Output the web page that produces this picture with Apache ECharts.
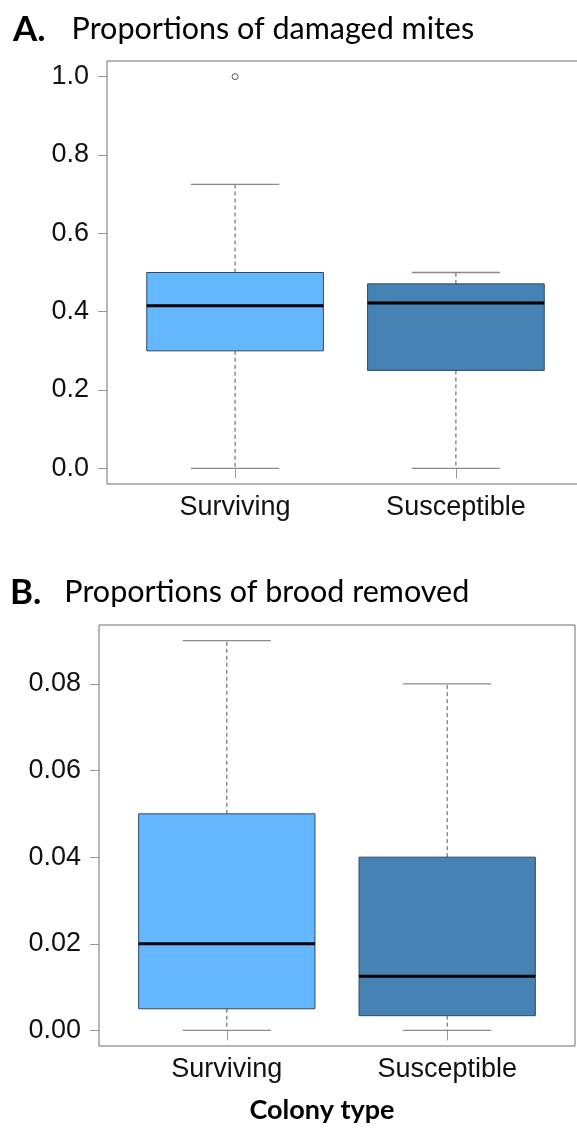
<!DOCTYPE html>
<html>
<head>
<meta charset="utf-8">
<script src="https://cdn.jsdelivr.net/npm/echarts@6/dist/echarts.min.js"></script>
<style>
html,body{margin:0;padding:0;background:#fff;}
#c{width:577px;height:1128px;}
</style>
</head>
<body>
<div id="c"></div>
<script>
// ---- data ----
const categories = ['Surviving', 'Susceptible'];
const boxColors = ['#63B8FF', '#4682B4'];
// [min, Q1, median, Q3, max]
const miteSurviving = [0, 0.30, 0.415, 0.50, 0.725];
const miteSusceptible = [0, 0.25, 0.422, 0.471, 0.50];
const miteOutliers = [[1, 1.0]]; // [group position, value]
const broodSurviving = [0, 0.005, 0.020, 0.050, 0.090];
const broodSusceptible = [0, 0.0034, 0.0125, 0.040, 0.080];
const miteTicks = [0, 0.2, 0.4, 0.6, 0.8, 1.0];
const broodTicks = [0, 0.02, 0.04, 0.06, 0.08];

const miteData = [[1].concat(miteSurviving), [2].concat(miteSusceptible)];
const broodData = [[1].concat(broodSurviving), [2].concat(broodSusceptible)];

const chart = echarts.init(document.getElementById('c'), null, {renderer: 'canvas'});

function renderBox(params, api) {
  const x = api.value(0);
  const mn = api.value(1), q1 = api.value(2), md = api.value(3), q3 = api.value(4), mx = api.value(5);
  const halfBox = api.size([0.4, 0])[0];
  const halfCap = api.size([0.2, 0])[0];
  const c = api.coord([x, md]);
  const cx = c[0];
  const yMin = api.coord([x, mn])[1];
  const yQ1 = api.coord([x, q1])[1];
  const yMd = c[1];
  const yQ3 = api.coord([x, q3])[1];
  const yMax = api.coord([x, mx])[1];
  const color = boxColors[params.dataIndex];
  const dash = {stroke: '#555', lineWidth: 1, lineDash: [4, 3]};
  const cap = {stroke: '#8a8a8a', lineWidth: 1.3};
  return {
    type: 'group',
    children: [
      {type: 'line', shape: {x1: cx, y1: yQ3, x2: cx, y2: yMax}, style: dash},
      {type: 'line', shape: {x1: cx, y1: yQ1, x2: cx, y2: yMin}, style: dash},
      {type: 'line', shape: {x1: cx - halfCap, y1: yMax, x2: cx + halfCap, y2: yMax}, style: cap},
      {type: 'line', shape: {x1: cx - halfCap, y1: yMin, x2: cx + halfCap, y2: yMin}, style: cap},
      {type: 'rect', shape: {x: cx - halfBox, y: yQ3, width: halfBox * 2, height: yQ1 - yQ3},
        style: {fill: color, stroke: '#34495a', lineWidth: 1}},
      {type: 'line', shape: {x1: cx - halfBox, y1: yMd, x2: cx + halfBox, y2: yMd},
        style: {stroke: '#000', lineWidth: 3}}
    ]
  };
}

const labelFont = {fontFamily: '"Liberation Sans", Arial, sans-serif', fontSize: 27, color: '#111'};

function xAxisCfg(gi) {
  return {
    gridIndex: gi, type: 'value', min: 0.42, max: 2.58,
    axisLine: {show: false},
    splitLine: {show: false},
    axisTick: {show: true, length: 10, customValues: [1, 2], lineStyle: {color: '#999', width: 1}},
    axisLabel: Object.assign({show: true, margin: 10, customValues: [1, 2],
      formatter: v => categories[Math.round(v) - 1]}, labelFont)
  };
}
function yAxisCfg(gi, mn, mx, ticks, dec) {
  return {
    gridIndex: gi, type: 'value', min: mn, max: mx,
    axisLine: {show: false},
    splitLine: {show: false},
    axisTick: {show: true, length: 9, customValues: ticks, lineStyle: {color: '#999', width: 1}},
    axisLabel: Object.assign({show: true, margin: 18, customValues: ticks,
      formatter: v => Number(v).toFixed(dec)}, labelFont)
  };
}

const titleFont = '"Lato", "Open Sans", sans-serif';
function titleRich(pad) {
  return {
    b: {fontFamily: titleFont, fontWeight: 'bold', fontSize: 35, color: '#000'},
    n: {fontFamily: titleFont, fontWeight: 'normal', fontSize: 30.5, color: '#000', padding: [0, 0, 0, pad]}
  };
}

chart.setOption({
  animation: false,
  backgroundColor: '#fff',
  title: [
    {text: '{b|A.}{n|Proportions of damaged mites}', left: 8, top: 7,
      textStyle: {fontWeight: 'normal', rich: titleRich(26)}},
    {text: '{b|B.}{n|Proportions of brood removed}', left: 5, top: 570,
      textStyle: {fontWeight: 'normal', rich: titleRich(23)}},
    {text: 'Colony type', left: 317, textAlign: 'center', top: 1092,
      textStyle: {fontFamily: titleFont, fontWeight: 'bold', fontSize: 27, color: '#000'}}
  ],
  grid: [
    {left: 107, top: 61, width: 477, height: 423, show: true, borderColor: '#6e6e6e', borderWidth: 1,
      backgroundColor: 'transparent', outerBoundsMode: 'none', containLabel: false},
    {left: 99, top: 625, width: 476, height: 421, show: true, borderColor: '#6e6e6e', borderWidth: 1,
      backgroundColor: 'transparent', outerBoundsMode: 'none', containLabel: false}
  ],
  xAxis: [xAxisCfg(0), xAxisCfg(1)],
  yAxis: [
    yAxisCfg(0, -0.04, 1.04, miteTicks, 1),
    yAxisCfg(1, -0.0036, 0.0936, broodTicks, 2)
  ],
  series: [
    {type: 'custom', xAxisIndex: 0, yAxisIndex: 0, data: miteData, renderItem: renderBox,
      encode: {x: 0, y: [1, 2, 3, 4, 5]}},
    {type: 'scatter', xAxisIndex: 0, yAxisIndex: 0, data: miteOutliers, symbol: 'circle', symbolSize: 6,
      itemStyle: {color: '#fff', borderColor: '#333', borderWidth: 1}},
    {type: 'custom', xAxisIndex: 1, yAxisIndex: 1, data: broodData, renderItem: renderBox,
      encode: {x: 0, y: [1, 2, 3, 4, 5]}}
  ]
});
</script>
</body>
</html>
